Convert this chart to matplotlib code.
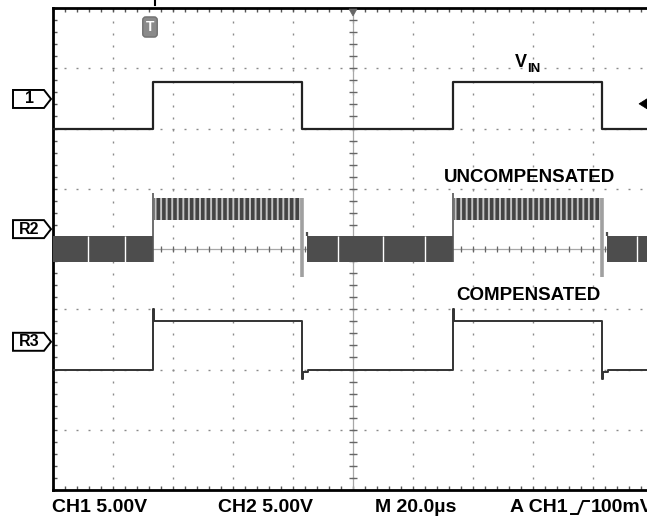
import numpy as np
import matplotlib.pyplot as plt
from matplotlib.patches import Polygon
from matplotlib.lines import Line2D
from matplotlib.transforms import IdentityTransform

plt.rcParams['lines.scale_dashes'] = False
plt.rcParams['font.family'] = ['Liberation Sans', 'DejaVu Sans']
plt.rcParams['hatch.linewidth'] = 2.6

W, H = 647, 520

# time in us (20 us/div, 10 div), vertical in divisions (0 = screen centre)
# CH1 = VIN square wave
vin_t = [0, 33.3, 33.3, 83.0, 83.0, 133.3, 133.3, 183.0, 183.0, 200]
vin_v = [2.0, 2.0, 2.78, 2.78, 2.0, 2.0, 2.78, 2.78, 2.0, 2.0]

# R3 = compensated output (overshoot on rise, undershoot on fall)
r3_t = [0, 33.4, 33.4, 33.8, 33.8, 83.0, 83.0, 83.4, 83.4, 85.0, 85.0,
        133.4, 133.4, 133.8, 133.8, 183.0, 183.0, 183.4, 183.4, 185.0, 185.0, 200]
r3_v = [-2.0, -2.0, -1.0, -1.0, -1.2, -1.2, -2.15, -2.15, -2.04, -2.04, -2.0,
        -2.0, -1.0, -1.0, -1.2, -1.2, -2.15, -2.15, -2.04, -2.04, -2.0, -2.0]

# R2 = uncompensated output, envelope of the switching ripple
r2_low_spans = [(0, 33.3), (84.5, 133.3), (184.5, 200)]
r2_low_band = (-0.22, 0.22)
r2_high_spans = [(33.7, 82.6), (133.7, 182.6)]
r2_high_band = (0.48, 0.85)
r2_gaps = [11.7, 24.0, 95.0, 110.0, 124.0, 194.7]
r2_rise = [33.3, 133.3]
r2_fall = [83.0, 183.0]
r2_rise_peak = 0.93
r2_fall_dip = -0.46
r2_restart_peak = 0.28

# channel markers on the left edge (divisions)
markers = [('1', 2.49), ('R2', 0.33), ('R3', -1.54)]
trig_level = 2.41

trace_labels = [('UNCOMPENSATED', 158.7, 1.18), ('COMPENSATED', 158.3, -0.78)]
readout = [('CH1 5.00V', 52), ('CH2 5.00V', 218), ('M 20.0\u00b5s', 375),
           ('A CH1', 510), ('100mV', 591)]

fig = plt.figure(figsize=(W / 100, H / 100), dpi=100)
ax = fig.add_axes([53 / W, 30 / H, 600 / W, 482 / H])
ax.set_xlim(0, 200)
ax.set_ylim(-4, 4)

for s in ax.spines.values():
    s.set_linewidth(2.0)
    s.set_color('black')
ax.set_xticks(np.arange(0, 201, 20))
ax.set_xticks(np.arange(0, 201, 4), minor=True)
ax.set_yticks(np.arange(-4, 4.01, 1))
ax.set_yticks(np.arange(-4, 4.01, 0.2), minor=True)
ax.tick_params(which='both', direction='in', top=True, right=True,
               labelbottom=False, labelleft=False, color='#555')
ax.tick_params(which='major', length=3, width=1)
ax.tick_params(which='minor', length=3, width=1)

# dotted graticule
ax.grid(True, which='major', color='#8a8a8a', lw=1.0,
        linestyle=(0.72, (1.44, 7.2)), zorder=0)
ax.set_axisbelow(True)

# centre axes with minor ticks
ax.axhline(0, color='#a8a8a8', lw=0.9, zorder=1)
ax.axvline(100, color='#a8a8a8', lw=0.9, zorder=1)
mx = np.arange(0, 201, 4)
my = np.arange(-4, 4.01, 0.2)
ax.plot(mx, np.zeros_like(mx), ls='none', marker='|', ms=5, mew=0.9,
        color='#666', zorder=1)
ax.plot(np.full_like(my, 100), my, ls='none', marker='_', ms=6, mew=1.0,
        color='#666', zorder=1)

# VIN
ax.plot(vin_t, vin_v, color='#222', lw=1.6, zorder=4)

# R3
ax.plot(r3_t, r3_v, color='#333', lw=1.4, zorder=4)

# R2 ripple bands
lo, hi = r2_low_band
for t0, t1 in r2_low_spans:
    ax.fill_between([t0, t1], lo, hi, color='#4d4d4d', lw=0, zorder=3)
ax.vlines(r2_gaps, lo, hi, color='white', lw=1.0, zorder=3.5)
hlo, hhi = r2_high_band
for t0, t1 in r2_high_spans:
    ax.fill_between([t0, t1], hlo, hhi, facecolor='#c4c4c4',
                    edgecolor='#444444', hatch='|||', lw=0, zorder=3)
ax.vlines(r2_rise, lo, r2_rise_peak, color='#555', lw=1.2, zorder=3.6)
ax.vlines(r2_fall, r2_fall_dip, hhi, color='#a0a0a0', lw=2.6, zorder=3.6)
ax.vlines([t0 for t0, _ in r2_low_spans[1:]], hi, r2_restart_peak,
          color='#4d4d4d', lw=1.6, zorder=3.6)

# trace labels
ax.text(154, 3.10, 'V', fontsize=13, fontweight='bold', ha='left', va='center')
ax.text(157.9, 2.99, 'IN', fontsize=9.5, fontweight='bold', ha='left', va='center')
for txt, x, y in trace_labels:
    ax.text(x, y, txt, fontsize=13.5, fontweight='bold', ha='center', va='center')

# channel marker tabs
for name, yv in markers:
    yd = ax.transData.transform((0, yv))[1]
    pts = [(13, yd - 9), (44, yd - 9), (51, yd), (44, yd + 9), (13, yd + 9)]
    fig.add_artist(Polygon(pts, closed=True, fc='white', ec='black', lw=1.4,
                           transform=IdentityTransform()))
    fig.text(29 / W, yd / H, name, fontsize=11.5, fontweight='bold',
             ha='center', va='center')

# trigger level arrow on the right
yd = ax.transData.transform((0, trig_level))[1]
fig.add_artist(Polygon([(639, yd), (647, yd + 5), (647, yd - 5)], closed=True,
                       fc='black', ec='black', lw=0.5, transform=IdentityTransform()))

# trigger position marks at the top
fig.add_artist(Line2D([155, 155], [H, H - 5], color='black', lw=1.5,
                      transform=IdentityTransform()))
fig.add_artist(Polygon([(349, H - 9), (357, H - 9), (353, H - 16)], closed=True,
                       fc='#666', ec='#666', lw=0.5, transform=IdentityTransform()))
fig.text(150 / W, 1 - 27 / H, 'T', fontsize=10, fontweight='bold', color='white',
         ha='center', va='center',
         bbox=dict(boxstyle='round,pad=0.22', fc='#8a8a8a', ec='#707070'))

# readout line
for txt, x in readout:
    fig.text(x / W, 1 - 507 / H, txt, fontsize=14, fontweight='bold',
             ha='left', va='center')
fig.add_artist(Line2D([571, 578, 583, 589], [H - 514, H - 514, H - 501, H - 501],
                      color='black', lw=1.4, transform=IdentityTransform()))

fig.savefig('out.png', dpi=100)
